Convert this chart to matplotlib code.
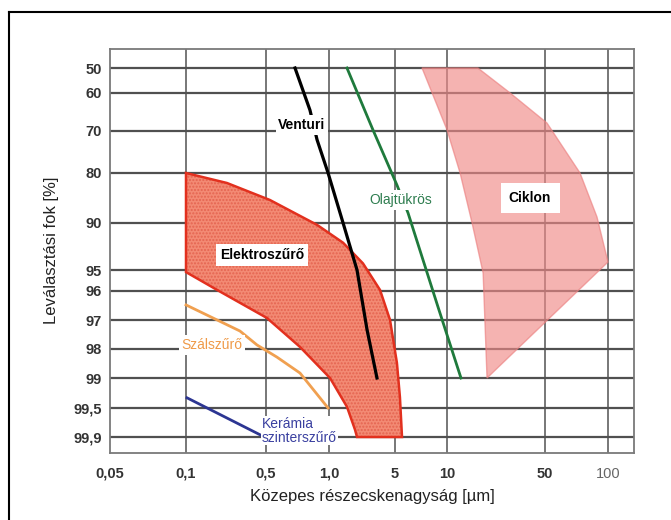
import numpy as np
import matplotlib.pyplot as plt
from matplotlib.lines import Line2D

plt.rcParams['font.family'] = ['Liberation Sans', 'DejaVu Sans']

# tengely osztasok
x_ticks = [0.05, 0.1, 0.5, 1, 5, 10, 50, 100]
x_ticklabels = ['0,05', '0,1', '0,5', '1,0', '5', '10', '50', '100']
y_ticks = [50, 60, 70, 80, 90, 95, 96, 97, 98, 99, 99.5, 99.9]
y_ticklabels = ['50', '60', '70', '80', '90', '95', '96', '97', '98', '99', '99,5', '99,9']

# gorbek (reszecskemeret [um], leválasztási fok [%])
venturi_x = [0.688, 0.811, 0.877, 0.99, 1.41, 1.98, 2.53, 3.22]
venturi_y = [50, 64.5, 72.1, 80, 90, 95, 97.34, 99]

olaj_x = [1.55, 2.92, 5.13, 5.95, 8.87, 12.58]
olaj_y = [50, 69.7, 82.4, 88, 96.55, 99]

szal_x = [0.1, 0.296, 0.417, 0.564, 0.727, 0.99]
szal_y = [96.48, 97.38, 97.86, 98.28, 98.83, 99.5]

keramia_x = [0.102, 0.471]
keramia_y = [99.33, 99.89]

elektro_top_x = [0.1, 0.228, 0.522, 0.877, 1.41, 2.29, 3.47, 4.43, 5.13, 5.34, 5.49]
elektro_top_y = [80, 82, 85.4, 90.2, 92.1, 94.3, 95.95, 97, 98.48, 99.32, 99.9]
elektro_bot_x = [0.1, 0.187, 0.505, 0.727, 1.025, 1.55, 1.886, 1.98]
elektro_bot_y = [95.1, 95.95, 96.93, 97.93, 99, 99.48, 99.8, 99.9]

ciklon_x = [7.17, 16.6, 28.2, 51.1, 73.5, 88.6, 100, 19.3, 18.1, 15.1, 12.4, 10]
ciklon_y = [50, 50, 60, 67.9, 80, 88.8, 94.15, 99, 95.14, 90, 80, 69.7]

# a nem egyenletes skala tamaszpontjai (rajzi tavolsag)
x_edges = [0.05, 0.1, 0.5, 1, 5, 10, 50, 100, 133]
x_pos = [0, 76, 156, 219, 285, 337, 435, 498, 524]
y_edges = [47, 50, 60, 70, 80, 90, 95, 96, 97, 98, 99, 99.5, 99.9, 99.95]
y_pos = [0, 19, 44, 82, 124, 174, 221, 242, 271, 300, 329, 359, 388, 404]


def x_fwd(v):
    v = np.clip(np.asarray(v, float), 1e-6, None)
    return np.interp(np.log10(v), np.log10(x_edges), x_pos)


def x_inv(p):
    return 10 ** np.interp(p, x_pos, np.log10(x_edges))


def y_fwd(v):
    return np.interp(v, y_edges, y_pos)


def y_inv(p):
    return np.interp(p, y_pos, y_edges)


fig = plt.figure(figsize=(6.71, 5.20), dpi=100)
ax = fig.add_axes([110 / 671, 1 - 453 / 520, 524 / 671, 404 / 520])
ax.set_xscale('function', functions=(x_fwd, x_inv))
ax.set_yscale('function', functions=(y_fwd, y_inv))
ax.set_xlim(0.05, 133)
ax.set_ylim(99.95, 47)

ax.set_xticks(x_ticks)
ax.set_xticklabels(x_ticklabels)
ax.set_yticks(y_ticks)
ax.set_yticklabels(y_ticklabels)
ax.minorticks_off()
ax.tick_params(length=0, labelsize=10.5, labelcolor='#333333')
ax.tick_params(axis='y', pad=6)
ax.tick_params(axis='x', pad=10)
for t in ax.get_xticklabels() + ax.get_yticklabels():
    t.set_fontweight('bold')
ax.get_xticklabels()[-1].set_fontweight('normal')
ax.get_xticklabels()[-1].set_color('#666666')

for sp in ax.spines.values():
    sp.set_color('#7a7a7a')
    sp.set_linewidth(1.3)

# racs
for v in x_ticks[1:]:
    ax.axvline(v, color='#606060', lw=1.2, zorder=0.5)
for v in y_ticks:
    ax.axhline(v, color='#505050', lw=1.6, zorder=0.5)

# Ciklon
ax.fill(ciklon_x, ciklon_y, facecolor='#f08a88', alpha=0.65, edgecolor='#ec8080',
        lw=1, zorder=2)

# Elektroszuro
ex = elektro_top_x + elektro_bot_x[::-1]
ey = elektro_top_y + elektro_bot_y[::-1]
ax.fill(ex, ey, facecolor='#f38a74', edgecolor='#e46450', hatch='.....', lw=0, zorder=2)
ax.fill(ex, ey, facecolor='none', edgecolor='#e2301e', lw=1.8, zorder=2.5)

ax.plot(venturi_x, venturi_y, color='black', lw=2.3, zorder=3)
ax.plot(olaj_x, olaj_y, color='#1f7a3c', lw=2, zorder=3)
ax.plot(szal_x, szal_y, color='#f0a050', lw=2, zorder=3)
ax.plot(keramia_x, keramia_y, color='#2c3592', lw=2, zorder=3)

wb = dict(facecolor='white', edgecolor='none', pad=2)
ax.text(0.743, 68.4, 'Venturi', ha='center', va='center', fontsize=10,
        fontweight='bold', color='black', bbox=wb, zorder=4)
ax.text(5.41, 85.4, 'Olajtükrös', ha='center', va='center', fontsize=10,
        color='#2e7d4f', bbox=wb, zorder=4)
ax.text(39.1, 85.0, 'Ciklon', ha='center', va='center', fontsize=10,
        fontweight='bold', color='black',
        bbox=dict(facecolor='white', edgecolor='none', pad=6), zorder=4)
ax.text(0.461, 93.4, 'Elektroszűrő', ha='center', va='center', fontsize=10,
        fontweight='bold', color='black',
        bbox=dict(facecolor='white', edgecolor='none', pad=3), zorder=4)
ax.text(0.169, 97.86, 'Szálszűrő', ha='center', va='center', fontsize=10,
        color='#ef9a48', bbox=wb, zorder=4)
ax.text(0.461, 99.62, 'Kerámia\nszinterszűrő', ha='left', va='top', fontsize=10,
        color='#3a40a0', linespacing=1.0,
        bbox=dict(facecolor='white', edgecolor='none', pad=0.5), zorder=4)

fig.text(372 / 671, 1 - 497 / 520, 'Közepes részecskenagyság [µm]', ha='center',
         va='center', fontsize=12, color='#222222')
fig.text(52 / 671, 1 - 250 / 520, 'Leválasztási fok [%]', ha='center', va='center',
         rotation=90, fontsize=12, color='#222222')

# keret
fig.add_artist(Line2D([9 / 671, 1], [1 - 12 / 520, 1 - 12 / 520], color='black', lw=1.5))
fig.add_artist(Line2D([9 / 671, 9 / 671], [0, 1 - 12 / 520], color='black', lw=1.5))

fig.savefig('out.png', dpi=100)
